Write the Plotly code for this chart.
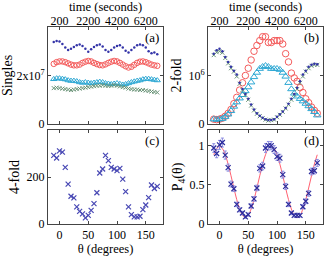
import plotly.graph_objects as go

# ---------------- data ----------------
theta_deg = [-10, -5, 0, 5, 10, 15, 20, 25, 30, 35, 40, 45, 50, 55, 60, 65, 70, 75, 80,
             85, 90, 95, 100, 105, 110, 115, 120, 125, 130, 135, 140, 145, 150, 155, 160, 165, 170]
time_s = [-200, 0, 200, 400, 600, 800, 1000, 1200, 1400, 1600, 1800, 2000, 2200, 2400, 2600,
          2800, 3000, 3200, 3400, 3600, 3800, 4000, 4200, 4400, 4600, 4800, 5000, 5200, 5400,
          5600, 5800, 6000, 6200, 6400, 6600, 6800, 7000]

# (a) singles, units of 1e7
singles_blue = [3.38, 3.42, 3.40, 3.30, 3.15, 3.05, 3.10, 3.18, 3.25, 3.28, 3.22, 3.10, 2.98,
                3.08, 3.18, 3.25, 3.28, 3.20, 3.05, 2.98, 3.05, 3.15, 3.22, 3.25, 3.15, 3.02,
                2.95, 3.05, 3.15, 3.25, 3.28, 3.25, 3.15, 3.00, 2.92, 2.95, 2.88]
singles_red = [2.48, 2.55, 2.58, 2.58, 2.55, 2.50, 2.45, 2.42, 2.42, 2.45, 2.52, 2.57, 2.60,
               2.58, 2.52, 2.47, 2.43, 2.42, 2.46, 2.52, 2.57, 2.60, 2.58, 2.52, 2.45, 2.38,
               2.33, 2.36, 2.44, 2.52, 2.57, 2.58, 2.55, 2.50, 2.45, 2.42, 2.40]
singles_cyan = [1.85, 1.88, 1.88, 1.86, 1.84, 1.80, 1.78, 1.78, 1.76, 1.72, 1.70, 1.72, 1.70,
                1.68, 1.70, 1.72, 1.74, 1.72, 1.68, 1.66, 1.64, 1.66, 1.68, 1.65, 1.62, 1.64,
                1.68, 1.72, 1.75, 1.78, 1.80, 1.84, 1.86, 1.86, 1.84, 1.82, 1.80]
singles_green = [1.48, 1.50, 1.48, 1.46, 1.44, 1.42, 1.40, 1.42, 1.44, 1.46, 1.48, 1.50, 1.52,
                 1.54, 1.56, 1.58, 1.58, 1.60, 1.58, 1.57, 1.58, 1.60, 1.58, 1.55, 1.52, 1.50,
                 1.46, 1.44, 1.42, 1.42, 1.40, 1.40, 1.38, 1.36, 1.34, 1.32, 1.30]

# (b) 2-fold coincidences, units of 1e6
twofold_blue = [1.45, 1.52, 1.55, 1.50, 1.38, 1.28, 1.18, 1.10, 1.02, 0.85, 0.72, 0.62, 0.52,
                0.40, 0.30, 0.22, 0.17, 0.13, 0.10, 0.08, 0.08, 0.10, 0.15, 0.20, 0.26, 0.33,
                0.42, 0.52, 0.62, 0.75, 0.88, 1.02, 1.10, 1.18, 1.22, 1.24, 1.23]
twofold_green = [1.42, 1.48, 1.50, 1.47, 1.36, 1.25, 1.15, 1.08, 0.98, 0.83, 0.70, 0.60, 0.50,
                 0.38, 0.28, 0.21, 0.16, 0.12, 0.09, 0.07, 0.08, 0.09, 0.14, 0.19, 0.25, 0.32,
                 0.40, 0.50, 0.60, 0.72, 0.85, 0.98, 1.08, 1.15, 1.20, 1.22, 1.22]
twofold_red = [0.10, 0.09, 0.10, 0.12, 0.16, 0.22, 0.30, 0.42, 0.55, 0.70, 0.85, 1.00, 1.15,
               1.32, 1.50, 1.62, 1.72, 1.80, 1.80, 1.68, 1.68, 1.72, 1.72, 1.72, 1.65, 1.45,
               1.28, 1.05, 0.95, 0.88, 0.75, 0.65, 0.52, 0.44, 0.35, 0.28, 0.22]
twofold_cyan = [0.10, 0.09, 0.10, 0.11, 0.15, 0.20, 0.27, 0.36, 0.45, 0.53, 0.60, 0.68, 0.76,
                0.86, 0.97, 1.06, 1.14, 1.18, 1.20, 1.18, 1.14, 1.14, 1.14, 1.12, 1.06, 0.98,
                0.85, 0.72, 0.63, 0.57, 0.52, 0.47, 0.42, 0.37, 0.31, 0.25, 0.18]

# (c) 4-fold coincidences
fourfold = [292, 281, 311, 306, 241, 170, 118, 111, 73, 54, 43, 26, 37, 58, 87, 133, 217, 234,
            292, 270, 241, 234, 227, 237, 191, 138, 73, 40, 30, 30, 33, 61, 81, 112, 166, 151, 160]

# (d) normalised P4(theta), errors and fit
p4 = [0.97, 0.90, 1.01, 1.04, 0.88, 0.72, 0.51, 0.45, 0.25, 0.18, 0.14, 0.09, 0.12, 0.23, 0.32,
      0.46, 0.71, 0.74, 0.97, 1.00, 1.00, 0.95, 0.86, 0.84, 0.63, 0.48, 0.25, 0.14, 0.11, 0.11,
      0.11, 0.22, 0.29, 0.39, 0.67, 0.68, 0.78]
p4_err = [0.055, 0.054, 0.057, 0.057, 0.052, 0.045, 0.038, 0.036, 0.028, 0.025, 0.022, 0.018,
          0.020, 0.026, 0.030, 0.036, 0.046, 0.048, 0.055, 0.054, 0.052, 0.050, 0.049, 0.050,
          0.044, 0.038, 0.028, 0.022, 0.020, 0.020, 0.021, 0.026, 0.030, 0.035, 0.043, 0.042,
          0.044]
p4_fit = [0.884, 0.963, 0.990, 0.963, 0.884, 0.764, 0.616, 0.459, 0.311, 0.191, 0.112, 0.085,
          0.112, 0.191, 0.311, 0.459, 0.616, 0.764, 0.884, 0.963, 0.990, 0.963, 0.884, 0.764,
          0.616, 0.459, 0.311, 0.191, 0.112, 0.085, 0.112, 0.191, 0.311, 0.459, 0.616, 0.764,
          0.884]

time_ticks = [200, 2200, 4200, 6200]
theta_ticks = [0, 50, 100, 150]

# ---------------- styles ----------------
BLUE = "#3434a8"
RED = "#f45c5c"
CYAN = "#2ea8d4"
GREEN = "#6a9478"
FONT = "Liberation Serif"

fig = go.Figure()

def add(x, y, xa, ya, marker, **kw):
    fig.add_trace(go.Scatter(x=x, y=y, mode="markers", marker=marker,
                             xaxis=xa, yaxis=ya, showlegend=False, **kw))

# (a)
add(time_s, [v * 1e7 for v in singles_blue], "x", "y", dict(symbol="circle", size=2.5, color=BLUE))
add(time_s, [v * 1e7 for v in singles_red], "x", "y",
    dict(symbol="circle-open", size=5.5, color=RED, line=dict(width=1)))
add(time_s, [v * 1e7 for v in singles_cyan], "x", "y",
    dict(symbol="triangle-up-open", size=5.5, color=CYAN, line=dict(width=1)))
add(time_s, [v * 1e7 for v in singles_green], "x", "y",
    dict(symbol="x-thin-open", size=4, color=GREEN, line=dict(width=1)))

# (b)
add(time_s, [v * 1e6 for v in twofold_red], "x2", "y2",
    dict(symbol="circle-open", size=6.5, color=RED, line=dict(width=1)))
add(time_s, [v * 1e6 for v in twofold_cyan], "x2", "y2",
    dict(symbol="triangle-up-open", size=6.5, color=CYAN, line=dict(width=1)))
add(time_s, [v * 1e6 for v in twofold_green], "x2", "y2",
    dict(symbol="x-thin-open", size=4, color=GREEN, line=dict(width=1)))
add(time_s, [v * 1e6 for v in twofold_blue], "x2", "y2", dict(symbol="circle", size=2.5, color=BLUE))

# (c)
add(theta_deg, fourfold, "x3", "y3",
    dict(symbol="x-thin-open", size=5, color="#4848b4", line=dict(width=1.2)))

# (d)
fig.add_trace(go.Scatter(x=theta_deg, y=p4_fit, mode="lines",
                         line=dict(color="#ff6070", width=1, shape="spline"),
                         xaxis="x4", yaxis="y4", showlegend=False))
add(theta_deg, p4, "x4", "y4",
    dict(symbol="x-thin-open", size=5, color="#2c2c9c", line=dict(width=1.2)),
    error_y=dict(type="data", array=p4_err, color="#8a8ae0", thickness=1, width=1.5))

# ---------------- layout ----------------
W, H = 325, 256
ML, MR, MT, MB = 48, 2, 27, 32
PW, PH = W - ML - MR, H - MT - MB

def dx(a, b):
    return [(a - ML) / PW, (b - ML) / PW]

def dy(top, bottom):
    return [1 - (bottom - MT) / PH, 1 - (top - MT) / PH]

axis_common = dict(showline=True, linecolor="#444", linewidth=1, mirror="ticks",
                   ticks="inside", ticklen=3, tickcolor="#444", showgrid=False, zeroline=False,
                   automargin=False, tickfont=dict(family=FONT, size=12, color="black"))
xtitle_font = dict(family=FONT, size=12.5, color="black")
ytitle_font = dict(family=FONT, size=14, color="black")

dom_left = dx(48, 163)
dom_right = dx(208, 323)
dom_top = dy(27, 124)
dom_bot = dy(130, 224)

top_axis = dict(axis_common, side="top", range=[-600, 7400], tickvals=time_ticks,
                ticklabelstandoff=-4,
                title=dict(text="time (seconds)", font=xtitle_font, standoff=0))

fig.update_layout(
    template="none",
    width=W, height=H, margin=dict(l=ML, r=MR, t=MT, b=MB, pad=0),
    paper_bgcolor="white", plot_bgcolor="white",
    font=dict(family=FONT, color="black"),
    xaxis=dict(top_axis, domain=dom_left, anchor="y"),
    yaxis=dict(axis_common, domain=dom_top, anchor="x", range=[0, 4e7], tickvals=[0, 2e7],
               ticktext=["0", "2x10<sup>7</sup>"],
               title=dict(text="Singles", font=ytitle_font, standoff=3)),
    xaxis2=dict(top_axis, domain=dom_right, anchor="y2"),
    yaxis2=dict(axis_common, domain=dom_top, anchor="x2", range=[0, 2e6], tickvals=[0, 1e6],
                ticktext=["0", "10<sup>6</sup>"],
                title=dict(text="2-fold", font=ytitle_font, standoff=3)),
    xaxis3=dict(axis_common, domain=dom_left, anchor="y3", range=[-20, 180], tickvals=theta_ticks,
                title=dict(text="θ (degrees)", font=xtitle_font, standoff=2)),
    yaxis3=dict(axis_common, domain=dom_bot, anchor="x3", range=[0, 400], tickvals=[0, 200],
                title=dict(text="4-fold", font=ytitle_font, standoff=3)),
    xaxis4=dict(axis_common, domain=dom_right, anchor="y4", range=[-20, 180], tickvals=theta_ticks,
                title=dict(text="θ (degrees)", font=xtitle_font, standoff=2)),
    yaxis4=dict(axis_common, domain=dom_bot, anchor="x4", range=[0, 1.2], tickvals=[0, 0.5, 1],
                ticktext=["0", "0.5", "1"],
                title=dict(text="P<sub>4</sub>(θ)", font=ytitle_font, standoff=3)),
)

for lab, xd, yd in [("(a)", dom_left, dom_top), ("(b)", dom_right, dom_top),
                    ("(c)", dom_left, dom_bot), ("(d)", dom_right, dom_bot)]:
    fig.add_annotation(text=lab, xref="paper", yref="paper",
                       x=xd[1] - 2 / PW, y=yd[1] - 1 / PH,
                       xanchor="right", yanchor="top", showarrow=False,
                       font=dict(family=FONT, size=13, color="black"))

fig.write_html("out.html", config={"displayModeBar": False},
               post_script="document.body.style.margin='0px';document.body.style.overflow='hidden';")
